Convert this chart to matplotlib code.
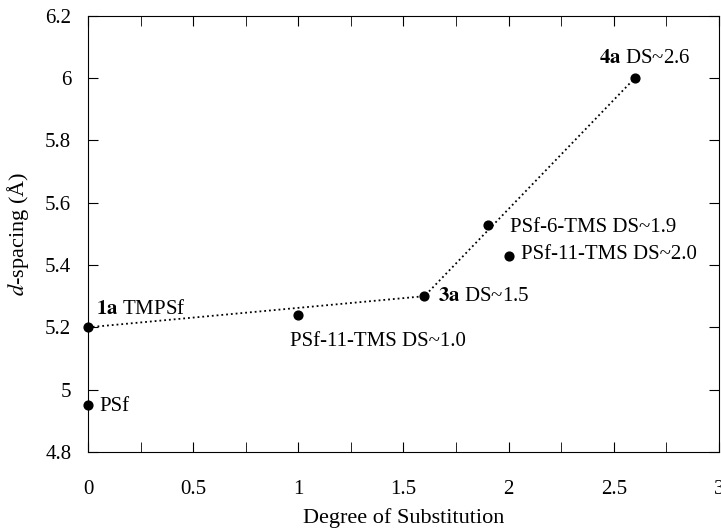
import matplotlib.pyplot as plt
from matplotlib.ticker import MultipleLocator

plt.rcParams['font.family'] = ['Liberation Serif', 'DejaVu Serif']
plt.rcParams['mathtext.fontset'] = 'stix'

# samples: degree of substitution vs d-spacing
ds = [0.0, 0.0, 1.0, 1.6, 1.9, 2.0, 2.6]
dspacing = [4.95, 5.20, 5.24, 5.30, 5.53, 5.43, 6.00]
labels = ['PSf', r'$\mathbf{1a}$ TMPSf', 'PSf-11-TMS DS~1.0', r'$\mathbf{3a}$ DS~1.5',
          'PSf-6-TMS DS~1.9', 'PSf-11-TMS DS~2.0', r'$\mathbf{4a}$ DS~2.6']

# dotted trend through 1a, 3a, 4a
trend_x = [0.0, 1.6, 2.6]
trend_y = [5.20, 5.30, 6.00]

# label offsets in points
offsets = [(8, -1), (6, 13), (-6, -19), (10, 0), (16, -2), (9, 1), (-26, 14)]

fig = plt.figure(figsize=(7.21, 5.31), dpi=100)
ax = fig.add_axes([0.122, 0.149, 0.875, 0.821])

ax.plot(trend_x, trend_y, linestyle=':', color='black', linewidth=1.3)
ax.scatter(ds, dspacing, s=40, color='black', zorder=3, clip_on=False)

for x, y, t, off in zip(ds, dspacing, labels, offsets):
    ax.annotate(t, (x, y), xytext=off, textcoords='offset points',
                fontsize=15, ha='left', va='center')

ax.set_xlim(0, 3)
ax.set_ylim(4.8, 6.2)
ax.xaxis.set_major_locator(MultipleLocator(0.5))
ax.xaxis.set_minor_locator(MultipleLocator(0.25))
ax.yaxis.set_major_locator(MultipleLocator(0.2))
ax.tick_params(which='both', direction='in', top=True, right=True, labelsize=15, length=7)
ax.tick_params(axis='x', pad=20)
ax.tick_params(axis='y', pad=12)
ax.xaxis.set_major_formatter(plt.FuncFormatter(lambda v, p: f'{v:g}'))
ax.yaxis.set_major_formatter(plt.FuncFormatter(lambda v, p: f'{v:g}'))

ax.set_xlabel('Degree of Substitution', fontsize=16)
ax.set_ylabel(r'$d$-spacing (Å)', fontsize=16)
ax.xaxis.set_label_coords(0.5, -0.128)
ax.yaxis.set_label_coords(-0.09, 0.5)

fig.savefig('out.png', dpi=100)
